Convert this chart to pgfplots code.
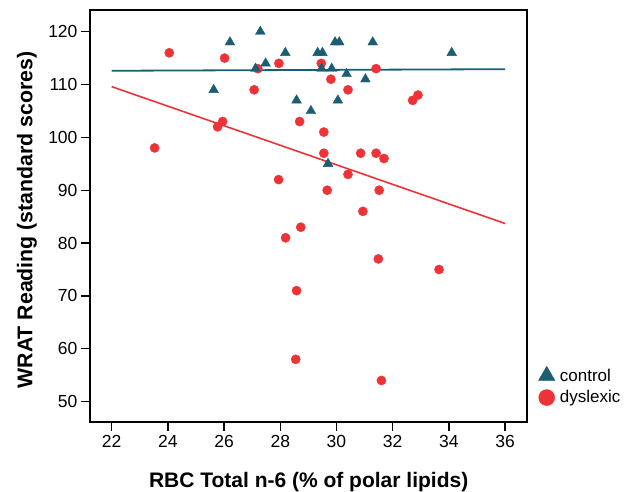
\documentclass[border=0pt]{standalone}
\usepackage{fontspec}
\setmainfont{Liberation Sans}
\usepackage{pgfplots}
\pgfplotsset{compat=1.18}
\definecolor{ctrl}{HTML}{1B5E73}
\definecolor{dys}{HTML}{EE3338}
\begin{document}
\begin{tikzpicture}
\useasboundingbox (-90pt,-70.3pt) rectangle (548pt,421.7pt);
\begin{axis}[
  scale only axis,
  width=437.3pt, height=411.7pt,
  xmin=21.23, xmax=36.79, ymin=46.2, ymax=124.1,
  xtick={22,24,...,36}, ytick={50,60,...,120},
  xtick pos=bottom, ytick pos=left,
  tick align=outside, major tick length=9pt,
  every tick/.style={black, line width=1.4pt},
  axis line style={black, line width=1.7pt},
  /pgf/number format/assume math mode=true,
  tick label style={font=\fontsize{17.5}{17.5}\selectfont},
  xticklabel style={yshift=-1pt},
  xlabel={\textbf{RBC Total n-6 (\% of polar lipids)}},
  ylabel={\textbf{WRAT Reading (standard scores)}},
  xlabel style={font=\fontsize{21}{21}\selectfont, at={(axis description cs:0.5,0)}, anchor=north, inner sep=0pt, yshift=-50pt},
  ylabel style={font=\fontsize{21.3}{21.3}\selectfont, at={(axis description cs:0,0.49)}, anchor=south, inner sep=0pt, yshift=53pt},
  clip=false,
  legend style={at={(1,0)}, anchor=south west, xshift=10pt, yshift=14pt, draw=none, fill=none,
    font=\fontsize{17}{17}\selectfont, inner sep=1pt, row sep=4pt},
  legend cell align=left,
]
\addplot[ctrl, line width=1.8pt, forget plot] coordinates {(22,112.6) (36,112.9)};
\addplot[dys, line width=1.6pt, forget plot] coordinates {(22,109.6) (36,83.7)};
\addplot[only marks, mark=*, mark size=4.6pt, dys, forget plot] coordinates {
(24.05,116) (26.02,115) (27.95,114) (29.46,114) (27.2,113) (31.41,113)
(29.8,111) (27.07,109) (30.41,109) (32.9,108) (32.71,107)
(25.95,103) (25.77,102) (28.69,103) (29.55,101) (23.53,98)
(29.55,97) (30.86,97) (31.41,97) (31.69,96) (30.41,93) (27.94,92)
(29.67,90) (31.52,90) (30.94,86) (28.73,83) (28.19,81) (31.49,77)
(33.65,75) (28.58,71) (28.55,58) (31.6,54)
};
\addplot[only marks, mark=triangle*, mark size=5.6pt, ctrl, forget plot] coordinates {
(26.21,118) (27.29,120) (28.18,116) (29.33,116) (29.5,116) (29.95,118) (30.1,118)
(31.29,118) (34.1,116) (27.48,114) (27.12,113) (29.47,113) (29.83,113)
(30.36,112) (31.03,111) (25.63,109) (28.58,107) (30.05,107) (29.09,105) (29.7,95)
};
\addlegendimage{only marks, mark=triangle*, mark size=9.5pt, ctrl}
\addlegendentry{\hspace{3pt}control}
\addlegendimage{only marks, mark=*, mark size=8pt, dys}
\addlegendentry{\hspace{3pt}dyslexic}
\end{axis}
\end{tikzpicture}
\end{document}
